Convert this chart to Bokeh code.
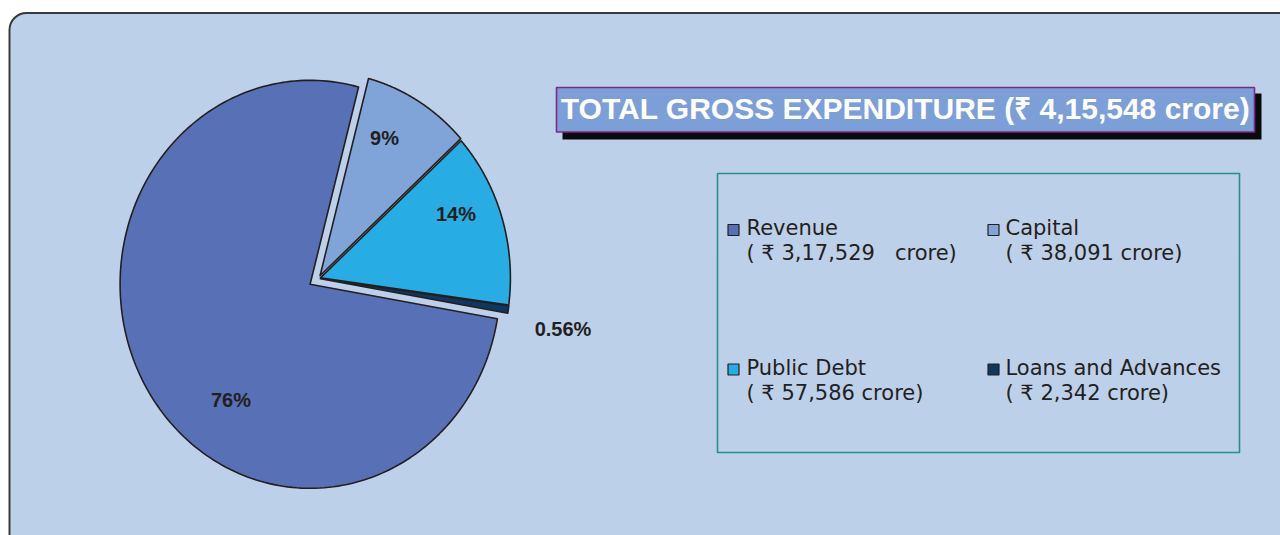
import numpy as np
from bokeh.plotting import figure
from bokeh.models import Range1d
from bokeh.core.properties import value
from bokeh.embed import file_html
from bokeh.resources import INLINE

# ---------------- data ----------------
categories = ["Revenue", "Capital", "Public Debt", "Loans and Advances"]
amounts = [317529, 38091, 57586, 2342]          # ₹ crore
amount_labels = ["3,17,529", "38,091", "57,586", "2,342"]
pct_labels = ["76%", "9%", "14%", "0.56%"]
total_label = "4,15,548"
title_text = f"TOTAL GROSS EXPENDITURE (₹ {total_label} crore)"

# ---------------- style / layout ----------------
colors = ["#5870B6", "#80A3D8", "#27ACE3", "#12375F"]
explode = [10, 3, 2, 2]
cx, cy, rx, ry = 318, 278, 190, 204
start_deg = -9.7
label_x = [230.5, 384, 455.5, 562.5]
label_y = [399.5, 137, 213.5, 328]
leg_sq_x = [733, 993, 733, 993]
leg_sq_y = [229.5, 229.5, 369, 369]
leg_tx = [746, 1005, 746, 1005]
leg_base = [227, 227, 367.5, 367.5]
line_gap = 25
BG = "#BDD0EA"
DARK = "#231F20"
W, H = 1280, 535

p = figure(width=W, height=H, x_range=Range1d(0, W), y_range=Range1d(H, 0),
           x_axis_type=None, y_axis_type=None, toolbar_location=None,
           output_backend="svg", min_border=0, outline_line_color=None,
           background_fill_color="white", border_fill_color="white")
p.grid.visible = False

# rounded background panel
p.quad(left=[9], right=[1320], top=[12.5], bottom=[560], fill_color=BG,
       line_color="#3A3A3A", line_width=2, border_radius=17)

# pie slices (elliptical, exploded)
vals = np.array(amounts, dtype=float)
fr = vals / vals.sum()
cum = np.concatenate([[0], np.cumsum(fr)[:-1]])
xs, ys = [], []
for i in range(len(vals)):
    a0 = np.radians(start_deg - cum[i] * 360)
    a1 = np.radians(start_deg - (cum[i] + fr[i]) * 360)
    mid = (a0 + a1) / 2
    ox, oy = explode[i] * np.cos(mid), -explode[i] * np.sin(mid) * ry / rx
    t = np.linspace(a0, a1, 200)
    px = cx + ox + rx * np.cos(t)
    py = cy + oy - ry * np.sin(t)
    xs.append(list(np.concatenate([[cx + ox], px, [cx + ox]])))
    ys.append(list(np.concatenate([[cy + oy], py, [cy + oy]])))
p.patches(xs=xs, ys=ys, fill_color=colors, line_color=DARK, line_width=1.6,
          line_join="round")

# percentage labels
p.text(x=label_x, y=label_y, text=pct_labels, text_font=value("Liberation Sans"),
       text_font_style="bold", text_font_size="20px", text_color=DARK,
       text_align="center", text_baseline="alphabetic")

# title box with shadow
p.quad(left=[562], right=[1261], top=[93], bottom=[139], fill_color="#0A0A0A", line_color=None)
p.quad(left=[556], right=[1254], top=[87], bottom=[131.5], fill_color="#7D9FD7",
       line_color="#7B2A85", line_width=1.6)
p.text(x=[905], y=[107.5], text=[title_text], text_font=value("Liberation Sans"),
       text_font_style="bold", text_font_size="30px", text_color="white",
       text_align="center", text_baseline="alphabetic")

# legend box
p.quad(left=[717], right=[1239], top=[173], bottom=[452], fill_color=None,
       line_color="#2A8C8C", line_width=1.6)
p.rect(x=leg_sq_x, y=leg_sq_y, width=11, height=11, fill_color=colors,
       line_color=DARK, line_width=1.2)
line2 = []
for i, a in enumerate(amount_labels):
    if i == 0:
        line2.append(f"( ₹ {a}\u00a0\u00a0\u00a0crore)")
    else:
        line2.append(f"( ₹ {a} crore)")
p.text(x=leg_tx, y=leg_base, text=categories, text_font=value("DejaVu Sans"),
       text_font_size="21px", text_color=DARK, text_baseline="alphabetic")
p.text(x=leg_tx, y=[b + line_gap for b in leg_base], text=line2,
       text_font=value("DejaVu Sans"), text_font_size="21px", text_color=DARK,
       text_baseline="alphabetic")

open("out.html", "w").write(file_html(p, INLINE))
